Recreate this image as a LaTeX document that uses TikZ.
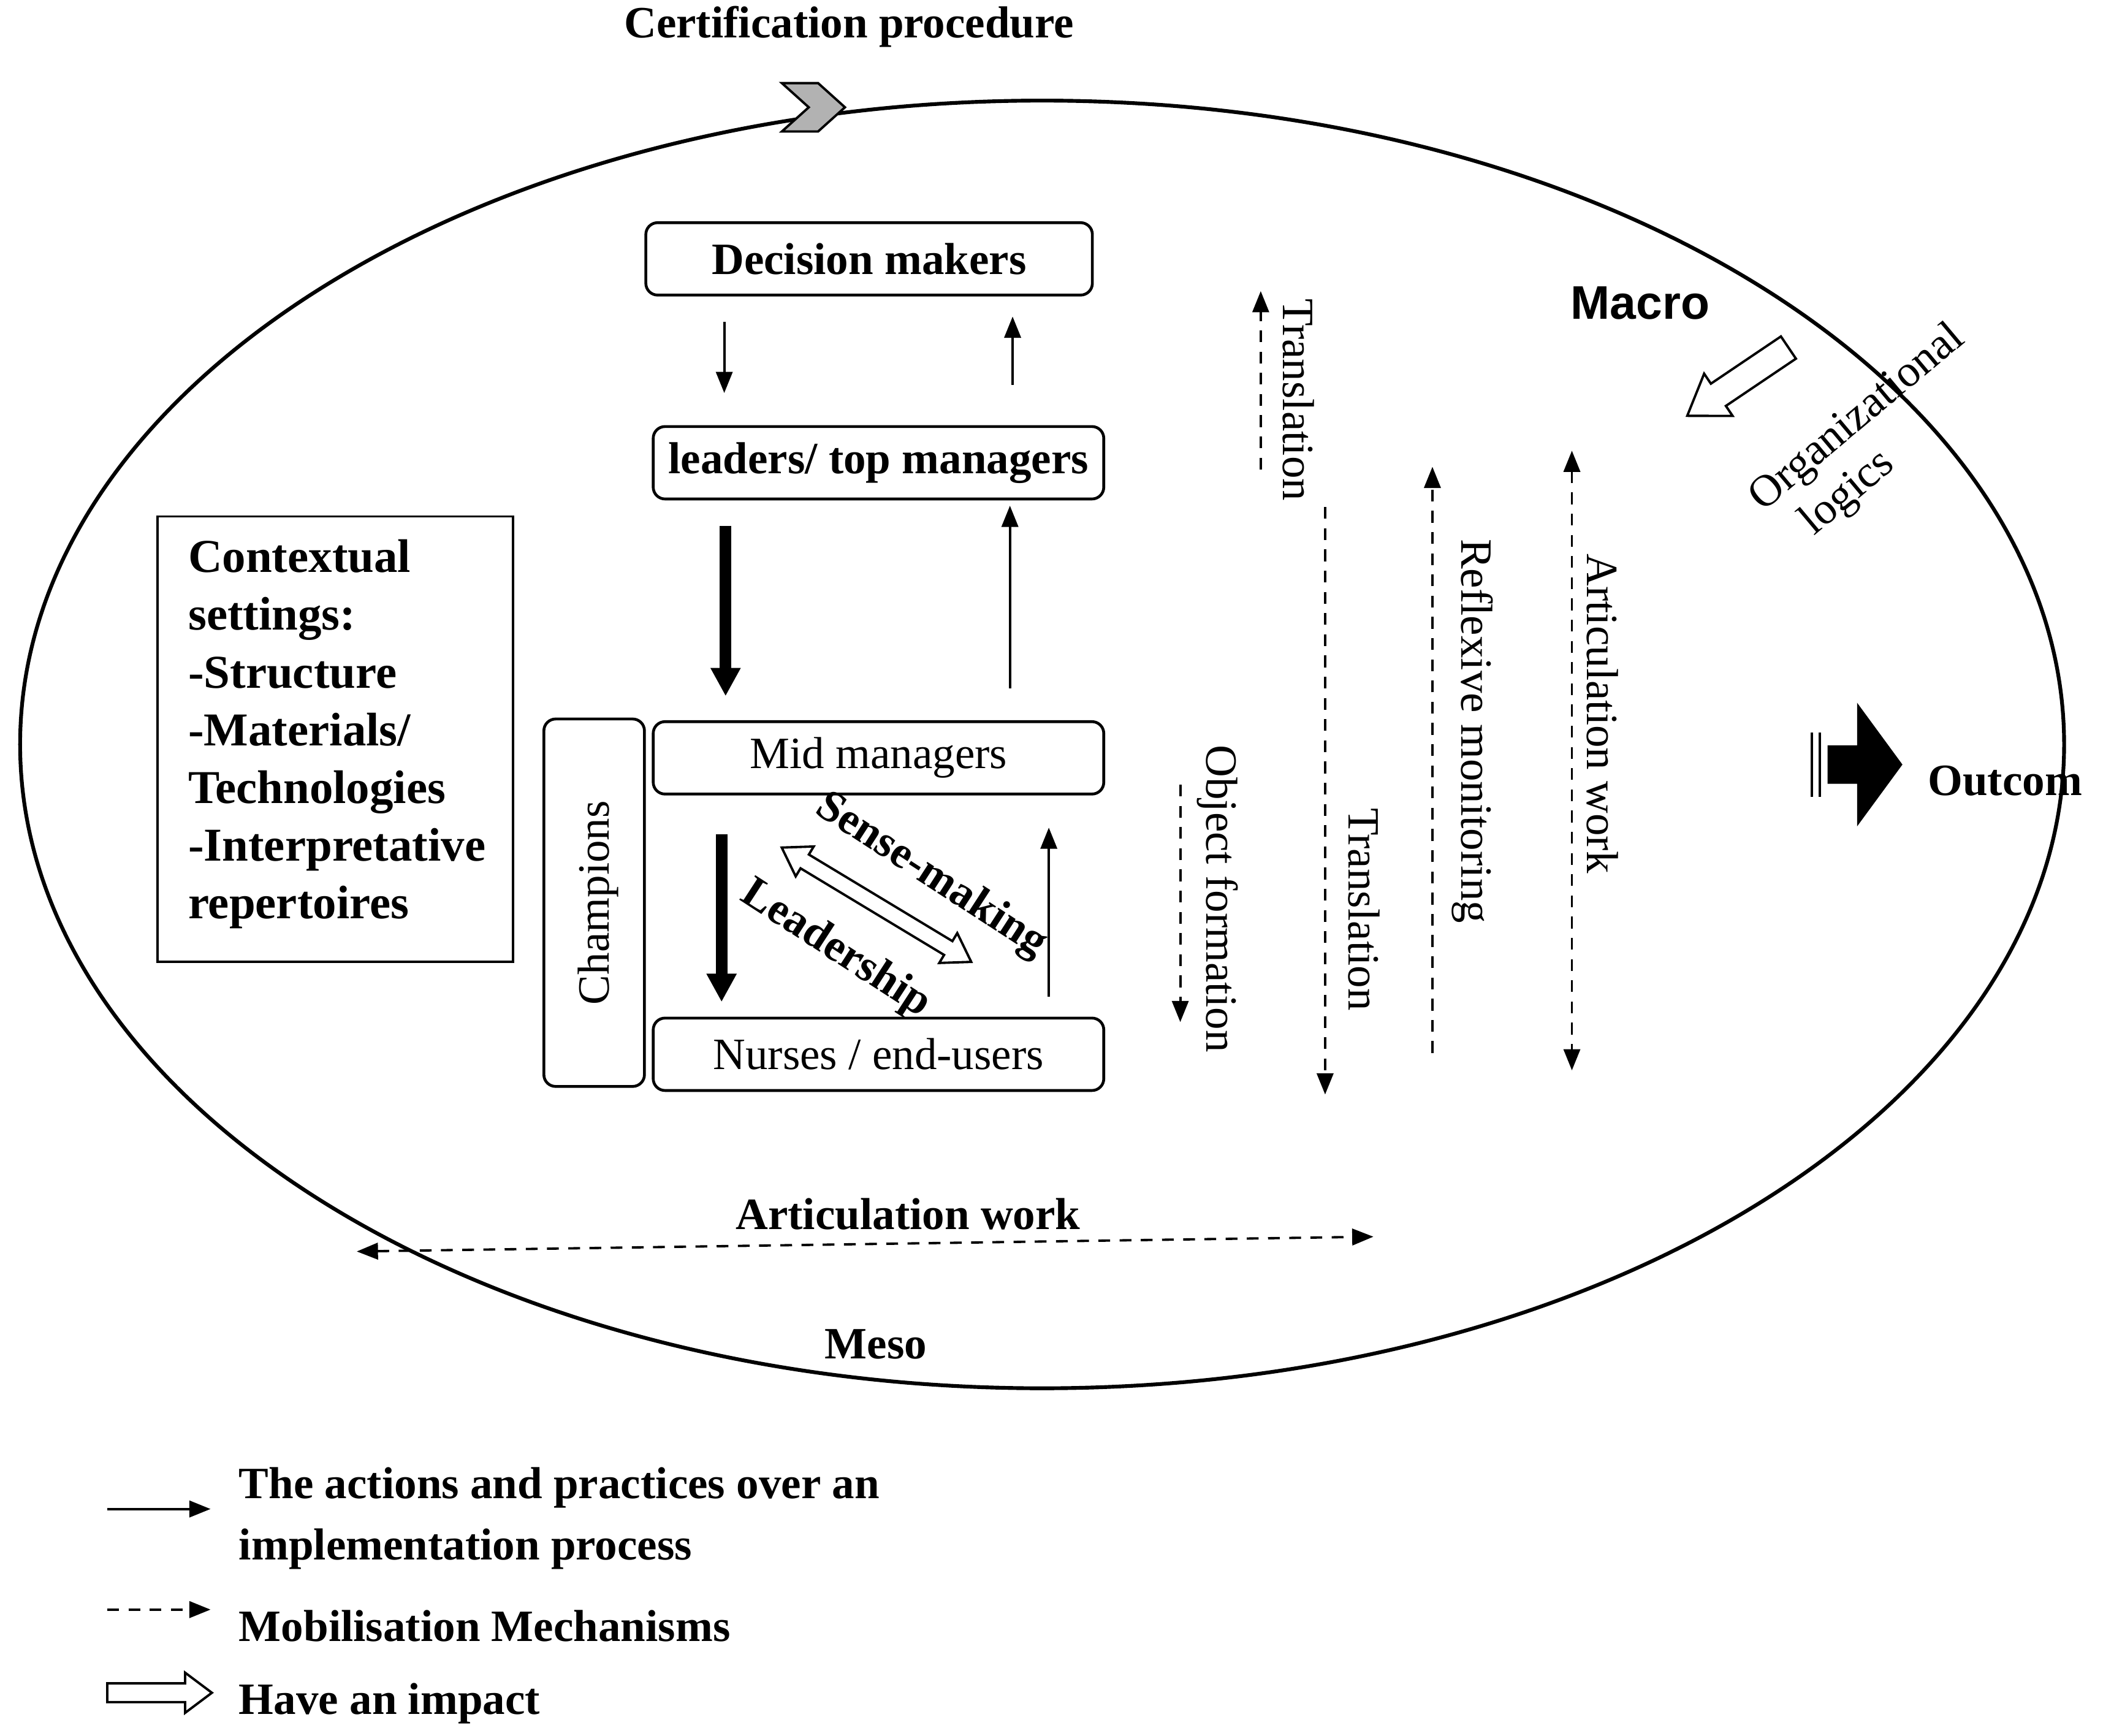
\documentclass[tikz,border=0pt]{standalone}
\usepackage{fontspec}
\setmainfont{Liberation Serif}
\newfontfamily\sansf{Liberation Sans}
\usetikzlibrary{arrows.meta}
\begin{document}
\begin{tikzpicture}[x={(0.02cm,0)},y={(0,-0.02cm)},
  every node/.style={font=\fontsize{19}{24}\selectfont},
  bx/.style={draw,line width=1.2pt,rounded corners=5pt,minimum height=1.08cm},
  ar/.style={-{Triangle[length=9pt,width=7pt]},line width=1pt},
  tk/.style={-{Triangle[length=12pt,width=12pt]},line width=5pt},
  da/.style={dash pattern=on 5pt off 4pt,line width=1pt,-{Triangle[length=9pt,width=7pt]}},
  dd/.style={dash pattern=on 5pt off 4pt,line width=1pt,{Triangle[length=9pt,width=7pt]}-{Triangle[length=9pt,width=7pt]}},
  wa/.style={draw,line width=1pt,fill=white}]
\useasboundingbox (0,0) rectangle (1568,1294);
\draw[line width=1.6pt] (777,555) ellipse [x radius=762, y radius=480];
\node (cp) at (633,20) {\bfseries Certification procedure};
\draw[line width=1pt,fill=gray!60] (583,62)--(610,62)--(630,80)--(610,98)--(583,98)--(603,80)--cycle;
\node[bx,minimum width=6.66cm] (dm) at (648,193) {\bfseries Decision makers};
\node[bx,minimum width=6.72cm] (lt) at (655,345) {\bfseries leaders/ top managers};
\node[bx,minimum width=6.72cm] (mm) at (655,565) {Mid managers};
\node[bx,minimum width=6.72cm] (nu) at (655,786) {Nurses / end-users};
\node[bx,minimum width=1.5cm,minimum height=5.48cm] (ch) at (443,673) {};
\node[rotate=90] at (446,673) {Champions};
\node[draw,line width=1pt,minimum width=5.3cm,minimum height=6.64cm] (cs) at (250,551) {};
\node[align=left,anchor=north west,font=\fontsize{20}{24.5}\selectfont\bfseries,inner sep=0pt] (cst) at (140,402) {Contextual\\settings:\\-Structure\\-Materials/\\Technologies\\-Interpretative\\repertoires};
\coordinate (a1) at (540,240); \coordinate (a2) at (540,293);
\draw[ar] (a1)--(a2);
\coordinate (a3) at (755,287); \coordinate (a4) at (755,236);
\draw[ar] (a3)--(a4);
\coordinate (a5) at (541,392); \coordinate (a6) at (541,519);
\draw[tk] (a5)--(a6);
\coordinate (a7) at (753,513); \coordinate (a8) at (753,377);
\draw[ar] (a7)--(a8);
\coordinate (a9) at (538,622); \coordinate (a10) at (538,747);
\draw[tk] (a9)--(a10);
\coordinate (a11) at (782,743); \coordinate (a12) at (782,617);
\draw[ar] (a11)--(a12);
% double white arrow
\begin{scope}[shift={(653.5,674.5)},rotate=-31.1]
\draw[wa] (-82.5,0)--(-62.5,-13)--(-62.5,-6)--(62.5,-6)--(62.5,-13)--(82.5,0)--(62.5,13)--(62.5,6)--(-62.5,6)--(-62.5,13)--cycle;
\end{scope}
\node[rotate=-33,font=\fontsize{19}{24}\selectfont\bfseries] at (694,653) {Sense-making};
\node[rotate=-33,font=\fontsize{19}{24}\selectfont\bfseries] at (623,708) {Leadership};
\coordinate (t1) at (940,350); \coordinate (t2) at (940,217);
\draw[da] (t1)--(t2);
\node[rotate=-90] at (968,298) {Translation};
\coordinate (t3) at (988,378); \coordinate (t4) at (988,816);
\draw[da] (t3)--(t4);
\node[rotate=-90] at (1017,678) {Translation};
\coordinate (o1) at (880,585); \coordinate (o2) at (880,762);
\draw[da] (o1)--(o2);
\node[rotate=-90] at (908,670) {Object formation};
\coordinate (r1) at (1068,785); \coordinate (r2) at (1068,348);
\draw[da] (r1)--(r2);
\node[rotate=-90] at (1098,545) {Reflexive monitoring};
\coordinate (w1) at (1172,336); \coordinate (w2) at (1172,798);
\draw[dd] (w1)--(w2);
\node[rotate=-90] at (1195,532) {Articulation work};
\node[font=\sansf\fontsize{20}{24}\selectfont\bfseries] (mac) at (1223,226) {Macro};
\node[rotate=40,font=\fontsize{19}{24}\selectfont] (ol1) at (1385,312) {Organizational};
\node[rotate=40,font=\fontsize{19}{24}\selectfont] (ol2) at (1378,368) {logics};
\begin{scope}[shift={(1258,310)},rotate=214]
\draw[wa] (0,0)--(-28,-19)--(-28,-10)--(-91,-10)--(-91,10)--(-28,10)--(-28,19)--cycle;
\end{scope}
\draw[fill=black] (1363,556)--(1385,556)--(1385,525)--(1418,570)--(1385,615)--(1385,584)--(1363,584)--cycle;
\draw[line width=1pt] (1351,546)--(1351,594) (1357,546)--(1357,594);
\node[font=\fontsize{19}{24}\selectfont\bfseries] at (1495,582) {Outcom};
\coordinate (h1) at (266,933); \coordinate (h2) at (1024,922);
\draw[dd] (h1)--(h2);
\node[font=\fontsize{19}{24}\selectfont\bfseries] at (677,905) {Articulation work};
\node[font=\fontsize{19}{24}\selectfont\bfseries] at (653,1002) {Meso};
\coordinate (l1) at (80,1125); \coordinate (l2) at (157,1125);
\draw[ar] (l1)--(l2);
\node[anchor=west,align=left,font=\fontsize{19}{26}\selectfont\bfseries] at (172,1132) {The actions and practices over an\\implementation process};
\coordinate (l3) at (80,1200); \coordinate (l4) at (157,1200);
\draw[da] (l3)--(l4);
\node[anchor=west,font=\fontsize{19}{24}\selectfont\bfseries] at (172,1212) {Mobilisation Mechanisms};
\begin{scope}[shift={(158,1262)}]
\draw[wa] (0,0)--(-20,-15)--(-20,-7)--(-78,-7)--(-78,7)--(-20,7)--(-20,15)--cycle;
\end{scope}
\node[anchor=west,font=\fontsize{19}{24}\selectfont\bfseries] at (172,1270) {Have an impact};
\end{tikzpicture}
\end{document}
